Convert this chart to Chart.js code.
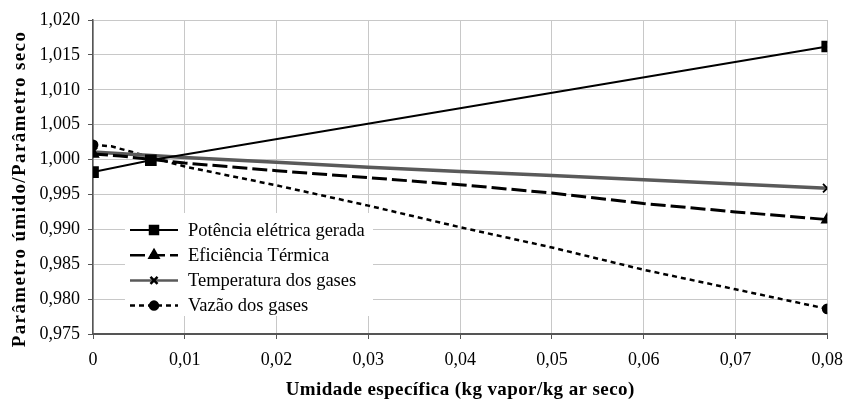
<!DOCTYPE html>
<html lang="pt">
<head>
<meta charset="utf-8">
<script src="https://cdn.jsdelivr.net/npm/chart.js@4.4.0/dist/chart.umd.min.js"></script>
<style>
    html, body { margin: 0; padding: 0; background: #fff; }
    #chart { display: block; }
</style>
</head>
<body>
<canvas id="chart" width="853" height="399"></canvas>
<script>
// --- DADOS ---
const potenciaX = [0, 0.0063, 0.08];
const potenciaY = [0.9982, 0.9999, 1.0162];

const eficienciaX = [0, 0.003, 0.01, 0.02, 0.03, 0.04, 0.05, 0.06, 0.07, 0.08];
const eficienciaY = [1.0008, 1.0005, 0.9995, 0.9984, 0.9974, 0.9964, 0.9952, 0.9937, 0.9925, 0.9914];

const temperaturaX = [0, 0.01, 0.02, 0.03, 0.04, 0.05, 0.06, 0.07, 0.08];
const temperaturaY = [1.0011, 1.0003, 0.9996, 0.9989, 0.9983, 0.9977, 0.9971, 0.9965, 0.9959];

const vazaoX = [0, 0.002, 0.01, 0.02, 0.03, 0.04, 0.05, 0.06, 0.07, 0.08];
const vazaoY = [1.0021, 1.0019, 0.9990, 0.9963, 0.9934, 0.9903, 0.9874, 0.9842, 0.9814, 0.9786];

const seriesLabels = ['Potência elétrica gerada', 'Eficiência Térmica', 'Temperatura dos gases', 'Vazão dos gases'];

const xTitle = 'Umidade específica (kg vapor/kg ar seco)';
const yTitle = 'Parâmetro úmido/Parâmetro seco';

// --- AUXILIARES ---
function toPoints(xs, ys) {
    return xs.map((x, i) => ({ x: x, y: ys[i] }));
}

// marcadores só nas pontas (como no Excel original)
function endRadius(xs, r) {
    return xs.map((x, i) => (i === 0 || i === xs.length - 1) ? r : 0);
}

function comma(v, dec) {
    return v.toFixed(dec).replace('.', ',');
}

const FONT = "'Liberation Serif', 'Times New Roman', serif";
Chart.defaults.font.family = FONT;
Chart.defaults.font.size = 18;
Chart.defaults.color = '#000';

// legenda dentro da área do gráfico + títulos dos eixos (com espaçamento entre letras)
const extras = {
    id: 'extras',
    afterDatasetsDraw(chart) {
        const ctx = chart.ctx;
        const left = 125, top = 213, rowH = 25.2;
        ctx.save();
        ctx.fillStyle = '#fff';
        ctx.fillRect(left, top, 248, 103);
        chart.data.datasets.forEach((ds, i) => {
            const y = top + 17 + i * rowH;
            ctx.strokeStyle = ds.borderColor;
            ctx.lineWidth = Math.min(ds.borderWidth, 2.5);
            ctx.setLineDash(ds.borderDash || []);
            ctx.beginPath();
            ctx.moveTo(130, y);
            ctx.lineTo(178, y);
            ctx.stroke();
            ctx.setLineDash([]);
            ctx.fillStyle = '#000';
            ctx.strokeStyle = '#000';
            Chart.helpers.drawPoint(ctx, {
                pointStyle: ds.pointStyle,
                radius: ds.legendRadius,
                borderWidth: 1.5
            }, 154, y);
            ctx.fillStyle = '#000';
            ctx.font = "18.5px " + FONT;
            ctx.textBaseline = 'middle';
            ctx.textAlign = 'left';
            ctx.fillText(ds.label, 188, y + 1);
        });
        ctx.restore();
    },
    afterDraw(chart) {
        const ctx = chart.ctx;
        const area = chart.chartArea;
        ctx.save();
        ctx.fillStyle = '#000';
        ctx.textAlign = 'center';
        ctx.textBaseline = 'middle';
        ctx.font = "bold 19px " + FONT;
        ctx.letterSpacing = '0.4px';
        ctx.fillText(xTitle, (area.left + area.right) / 2, 390);
        ctx.letterSpacing = '1.4px';
        ctx.translate(20, 189);
        ctx.rotate(-Math.PI / 2);
        ctx.fillText(yTitle, 0, 0);
        ctx.letterSpacing = '0px';
        ctx.restore();
    }
};

const datasets = [
    {
        label: seriesLabels[0],
        data: toPoints(potenciaX, potenciaY),
        borderColor: '#000', backgroundColor: '#000',
        borderWidth: 2,
        pointStyle: 'rect', pointRadius: potenciaX.map(() => 7), legendRadius: 6
    },
    {
        label: seriesLabels[1],
        data: toPoints(eficienciaX, eficienciaY),
        borderColor: '#000', backgroundColor: '#000',
        borderWidth: 3, borderDash: [15, 5],
        pointStyle: 'triangle', pointRadius: endRadius(eficienciaX, 6), legendRadius: 5
    },
    {
        label: seriesLabels[2],
        data: toPoints(temperaturaX, temperaturaY),
        borderColor: '#5a5a5a', backgroundColor: '#000',
        borderWidth: 3.5,
        pointStyle: 'crossRot', pointRadius: endRadius(temperaturaX, 6), legendRadius: 5
    },
    {
        label: seriesLabels[3],
        data: toPoints(vazaoX, vazaoY),
        borderColor: '#000', backgroundColor: '#000',
        borderWidth: 2.5, borderDash: [5, 4],
        pointStyle: 'circle', pointRadius: endRadius(vazaoX, 4.5), legendRadius: 4
    }
];

datasets.forEach(ds => {
    ds.pointBackgroundColor = '#000';
    ds.pointBorderColor = '#000';
    ds.pointBorderWidth = 1.8;
    ds.tension = 0;
    ds.fill = false;
});

new Chart(document.getElementById('chart'), {
    type: 'line',
    data: { datasets: datasets },
    options: {
        responsive: false,
        animation: false,
        layout: { padding: { top: 20, right: 17, left: 0, bottom: 0 } },
        plugins: {
            legend: { display: false },
            tooltip: { enabled: false }
        },
        scales: {
            x: {
                type: 'linear',
                min: 0, max: 0.08,
                afterFit: s => { s.height = 65; },
                ticks: {
                    stepSize: 0.01,
                    padding: 10,
                    maxRotation: 0,
                    callback: v => v === 0 ? '0' : comma(v, 2)
                },
                grid: { color: '#c8c8c8', lineWidth: 1, tickLength: 5, tickColor: '#555' },
                border: { color: '#555', width: 2 }
            },
            y: {
                min: 0.975, max: 1.02,
                afterFit: s => { s.width = 93; },
                ticks: {
                    stepSize: 0.005,
                    padding: 8,
                    callback: v => comma(v, 3)
                },
                grid: { color: '#c8c8c8', lineWidth: 1, tickLength: 5, tickColor: '#555' },
                border: { color: '#555', width: 1.5 }
            }
        }
    },
    plugins: [extras]
});
</script>
</body>
</html>
